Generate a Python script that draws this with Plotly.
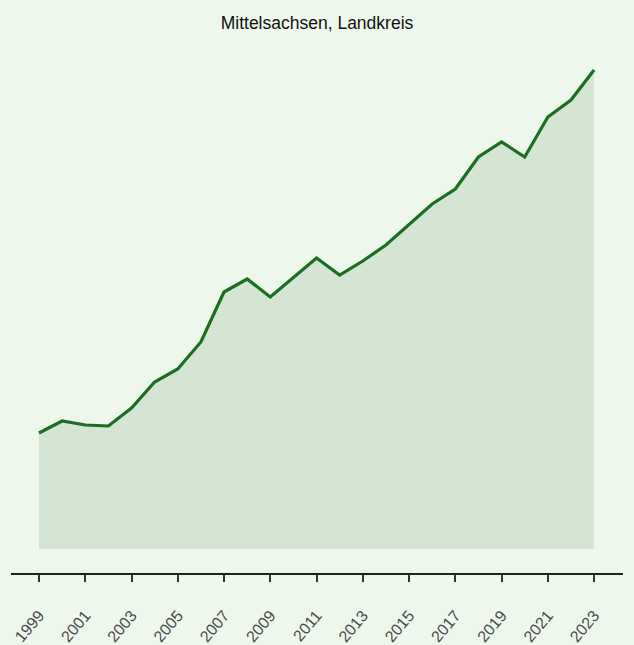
import plotly.graph_objects as go

years = list(range(1999, 2024))
values = [116, 128, 124, 123, 141, 167, 180, 207, 257, 270, 252, 272, 291, 274, 288,
          304, 324, 345, 360, 392, 407, 392, 432, 449, 479]
tick_years = list(range(1999, 2024, 2))
title = "Mittelsachsen, Landkreis"

fig = go.Figure()
fig.add_trace(go.Scatter(
    x=years, y=values, mode="lines",
    line=dict(color="#1b6e20", width=3.2),
    fill="tozeroy", fillcolor="#d4e6d3",
    hoverinfo="x+y",
))

fig.update_layout(
    width=634, height=645,
    paper_bgcolor="#edf7ec", plot_bgcolor="#edf7ec",
    margin=dict(l=11, r=11, t=60, b=72),
    showlegend=False,
    title=dict(text=title, x=0.5, xanchor="center", y=1 - 23 / 645, yanchor="middle",
               font=dict(family="Liberation Sans, Arial, sans-serif", size=17.5, color="#111111")),
    xaxis=dict(
        range=[1997.79, 2024.25], tickmode="array", tickvals=tick_years,
        ticktext=[str(y) for y in tick_years], tickangle=-50,
        showgrid=False, zeroline=False, showline=True, linecolor="#222222", linewidth=1.5,
        ticks="outside", ticklen=7, tickwidth=2, tickcolor="#333333",
        ticklabelstandoff=18, automargin=False,
        tickfont=dict(family="Liberation Sans, Arial, sans-serif", size=16, color="#4a4a4a"),
    ),
    yaxis=dict(range=[-24, 489], visible=False, showgrid=False, zeroline=False, automargin=False),
)

fig.write_html("out.html", config={"displayModeBar": False},
               post_script="document.body.style.margin='0';document.body.style.overflow='hidden';")
